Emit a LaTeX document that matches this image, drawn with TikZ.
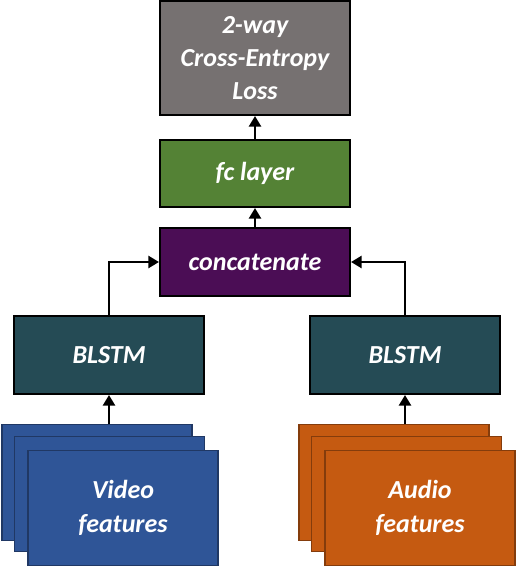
\documentclass[tikz,border=0pt]{standalone}
\usepackage{fontspec}
\setmainfont{Carlito}
\usetikzlibrary{arrows.meta}

\definecolor{lossgray}{HTML}{767171}
\definecolor{fcgreen}{HTML}{548235}
\definecolor{catpurple}{HTML}{4B0D55}
\definecolor{lstmteal}{HTML}{254B55}
\definecolor{vidblue}{HTML}{2F5597}
\definecolor{videdge}{HTML}{203864}
\definecolor{audorange}{HTML}{C55A11}
\definecolor{audedge}{HTML}{843C0C}

\begin{document}
\begin{tikzpicture}[x=0.75pt,y=-0.75pt,
  box/.style={draw=black, line width=1.5pt, text=white, align=center,
    font=\fontsize{19.5}{25}\selectfont\bfseries\itshape,
    minimum width=142.5pt, inner sep=0pt},
  sheet/.style={box, line width=0.9pt, minimum height=86.5pt},
  arr/.style={line width=2.2pt, -{Triangle[length=8pt, width=9pt]}}]
  \useasboundingbox (0,0) rectangle (516,568);

  % top part
  \node[box, fill=lossgray, minimum height=85.5pt] (loss) at (255,58) {2-way\\Cross-Entropy\\Loss};
  \node[box, fill=fcgreen, minimum height=50.25pt] (fc) at (255,173.5) {fc layer};
  \node[box, fill=catpurple, minimum height=51pt] (cat) at (255,262) {concatenate};

  % the two BLSTMs
  \node[box, fill=lstmteal, minimum height=58.5pt] (lstmV) at (109,355) {BLSTM};
  \node[box, fill=lstmteal, minimum height=58.5pt] (lstmA) at (405,355) {BLSTM};

  % input feature stacks
  \node[sheet, fill=vidblue, draw=videdge] (vidC) at (97,482.5) {};
  \node[sheet, fill=vidblue, draw=videdge] (vidB) at (109.5,494) {};
  \node[sheet, fill=vidblue, draw=videdge] (vidA) at (123,508) {Video\\features};
  \node[sheet, fill=audorange, draw=audedge] (audC) at (394,482.5) {};
  \node[sheet, fill=audorange, draw=audedge] (audB) at (406.5,494) {};
  \node[sheet, fill=audorange, draw=audedge] (audA) at (420,508) {Audio\\features};

  \draw[arr] (lstmV.south |- vidC.north) -- (lstmV.south);
  \draw[arr] (lstmA.south |- audC.north) -- (lstmA.south);
  \draw[arr] (lstmV.north) |- (cat.west);
  \draw[arr] (lstmA.north) |- (cat.east);
  \draw[arr] (cat) -- (fc);
  \draw[arr] (fc) -- (loss);
\end{tikzpicture}
\end{document}
